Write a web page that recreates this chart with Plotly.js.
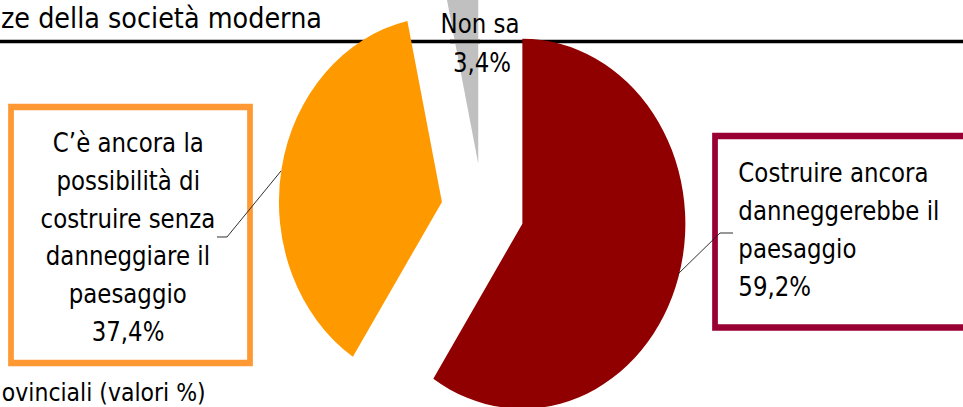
<!DOCTYPE html>
<html>
<head>
<meta charset="utf-8">
<script src="https://cdn.plot.ly/plotly-3.0.1.min.js"></script>
<style>
  html, body { margin: 0; padding: 0; background: #ffffff; overflow: hidden; width: 963px; height: 407px; }
  #chart { position: absolute; left: 0; top: -25px; width: 1093px; height: 480px;
           transform: scaleX(0.8811); transform-origin: 0 0; }
</style>
</head>
<body>
<div id="chart"></div>
<script>
// ---- data ----
const categories = [
  "Costruire ancora danneggerebbe il paesaggio",
  "C’è ancora la possibilità di costruire senza danneggiare il paesaggio",
  "Non sa"
];
const values = [59.2, 37.4, 3.4];
const labelLinesRed = ["Costruire ancora", "danneggerebbe il", "paesaggio"];
const labelLinesOrange = ["C’è ancora la", "possibilità di", "costruire senza", "danneggiare il", "paesaggio"];
const labelLinesGray = ["Non sa"];
const titleText = "ze della società moderna";
const footText = "ovinciali (valori %)";

// ---- styles / geometry ----
const sliceColors = ["#900000", "#FF9900", "#C0C0C0"];
const K = 163 / 185, W = 1093, H = 480, T = 25;
function fx(x) { return x / K / W; }
function fy(y) { return 1 - (y + T) / H; }
function pct(v) { return v.toFixed(1).replace(".", ",") + "%"; }

const R = 185, PULL = 47 / 185, CX = 547.8, CY = 210.4;
const half = R * (1 + PULL);
const domX = [(CX - half) / W, (CX + half) / W];
const domY = [1 - (CY + T + half) / H, 1 - (CY + T - half) / H];

const FONT = { family: "DejaVu Sans", size: 26, color: "#000000" };
const annotations = [];
function addText(text, x, y, xanchor, font) {
  annotations.push({ text: text, x: fx(x), y: fy(y), xref: "paper", yref: "paper",
    xanchor: xanchor, yanchor: "middle", showarrow: false, font: font || FONT });
}
labelLinesOrange.concat([pct(values[1])]).forEach((t, i) => addText(t, 128, 143 + 37.8 * i, "center"));
labelLinesRed.concat([pct(values[0])]).forEach((t, i) => addText(t, 737, 173 + 38 * i, "left"));
addText(labelLinesGray[0], 480, 24, "center");
addText(pct(values[2]), 482, 63, "center");
addText(titleText, -1, 18, "left", { family: "DejaVu Sans", size: 29, color: "#000000" });
addText(footText, 0, 392, "left", { family: "DejaVu Sans", size: 25, color: "#000000" });

function linePath(pts) {
  return pts.map((p, i) => (i ? "L" : "M") + fx(p[0]).toFixed(5) + "," + fy(p[1]).toFixed(5)).join(" ");
}

const shapes = [
  { type: "line", xref: "paper", yref: "paper", x0: 0, x1: 1, y0: fy(41.5), y1: fy(41.5),
    line: { color: "#000000", width: 3.5 }, layer: "below" },
  { type: "line", xref: "paper", yref: "paper", x0: fx(450), x1: fx(480), y0: fy(41.5), y1: fy(41.5),
    line: { color: "#000000", width: 3.5 }, layer: "above" },
  { type: "rect", xref: "paper", yref: "paper", x0: fx(11), x1: fx(250), y0: fy(363), y1: fy(107),
    line: { color: "#FF9933", width: 6.5 }, fillcolor: "rgba(0,0,0,0)" },
  { type: "rect", xref: "paper", yref: "paper", x0: fx(715), x1: fx(1010), y0: fy(327.5), y1: fy(136),
    line: { color: "#990033", width: 6.5 }, fillcolor: "rgba(0,0,0,0)" },
  { type: "path", xref: "paper", yref: "paper", path: linePath([[217, 237], [227, 237], [281, 171]]),
    line: { color: "#222222", width: 1 } },
  { type: "path", xref: "paper", yref: "paper", path: linePath([[678, 274], [720, 233], [733, 233]]),
    line: { color: "#222222", width: 1 } }
];

const trace = {
  type: "pie",
  labels: categories,
  values: values,
  sort: false,
  direction: "clockwise",
  rotation: 0,
  pull: values.map(() => PULL),
  marker: { colors: sliceColors, line: { width: 0 } },
  textinfo: "none",
  hoverinfo: "label+percent",
  showlegend: false,
  domain: { x: domX, y: domY }
};

Plotly.newPlot("chart", [trace], {
  width: W, height: H, autosize: false,
  margin: { l: 0, r: 0, t: 0, b: 0, pad: 0 },
  paper_bgcolor: "rgba(0,0,0,0)", plot_bgcolor: "rgba(0,0,0,0)",
  showlegend: false,
  shapes: shapes,
  annotations: annotations
}, { staticPlot: true, displayModeBar: false });
</script>
</body>
</html>
